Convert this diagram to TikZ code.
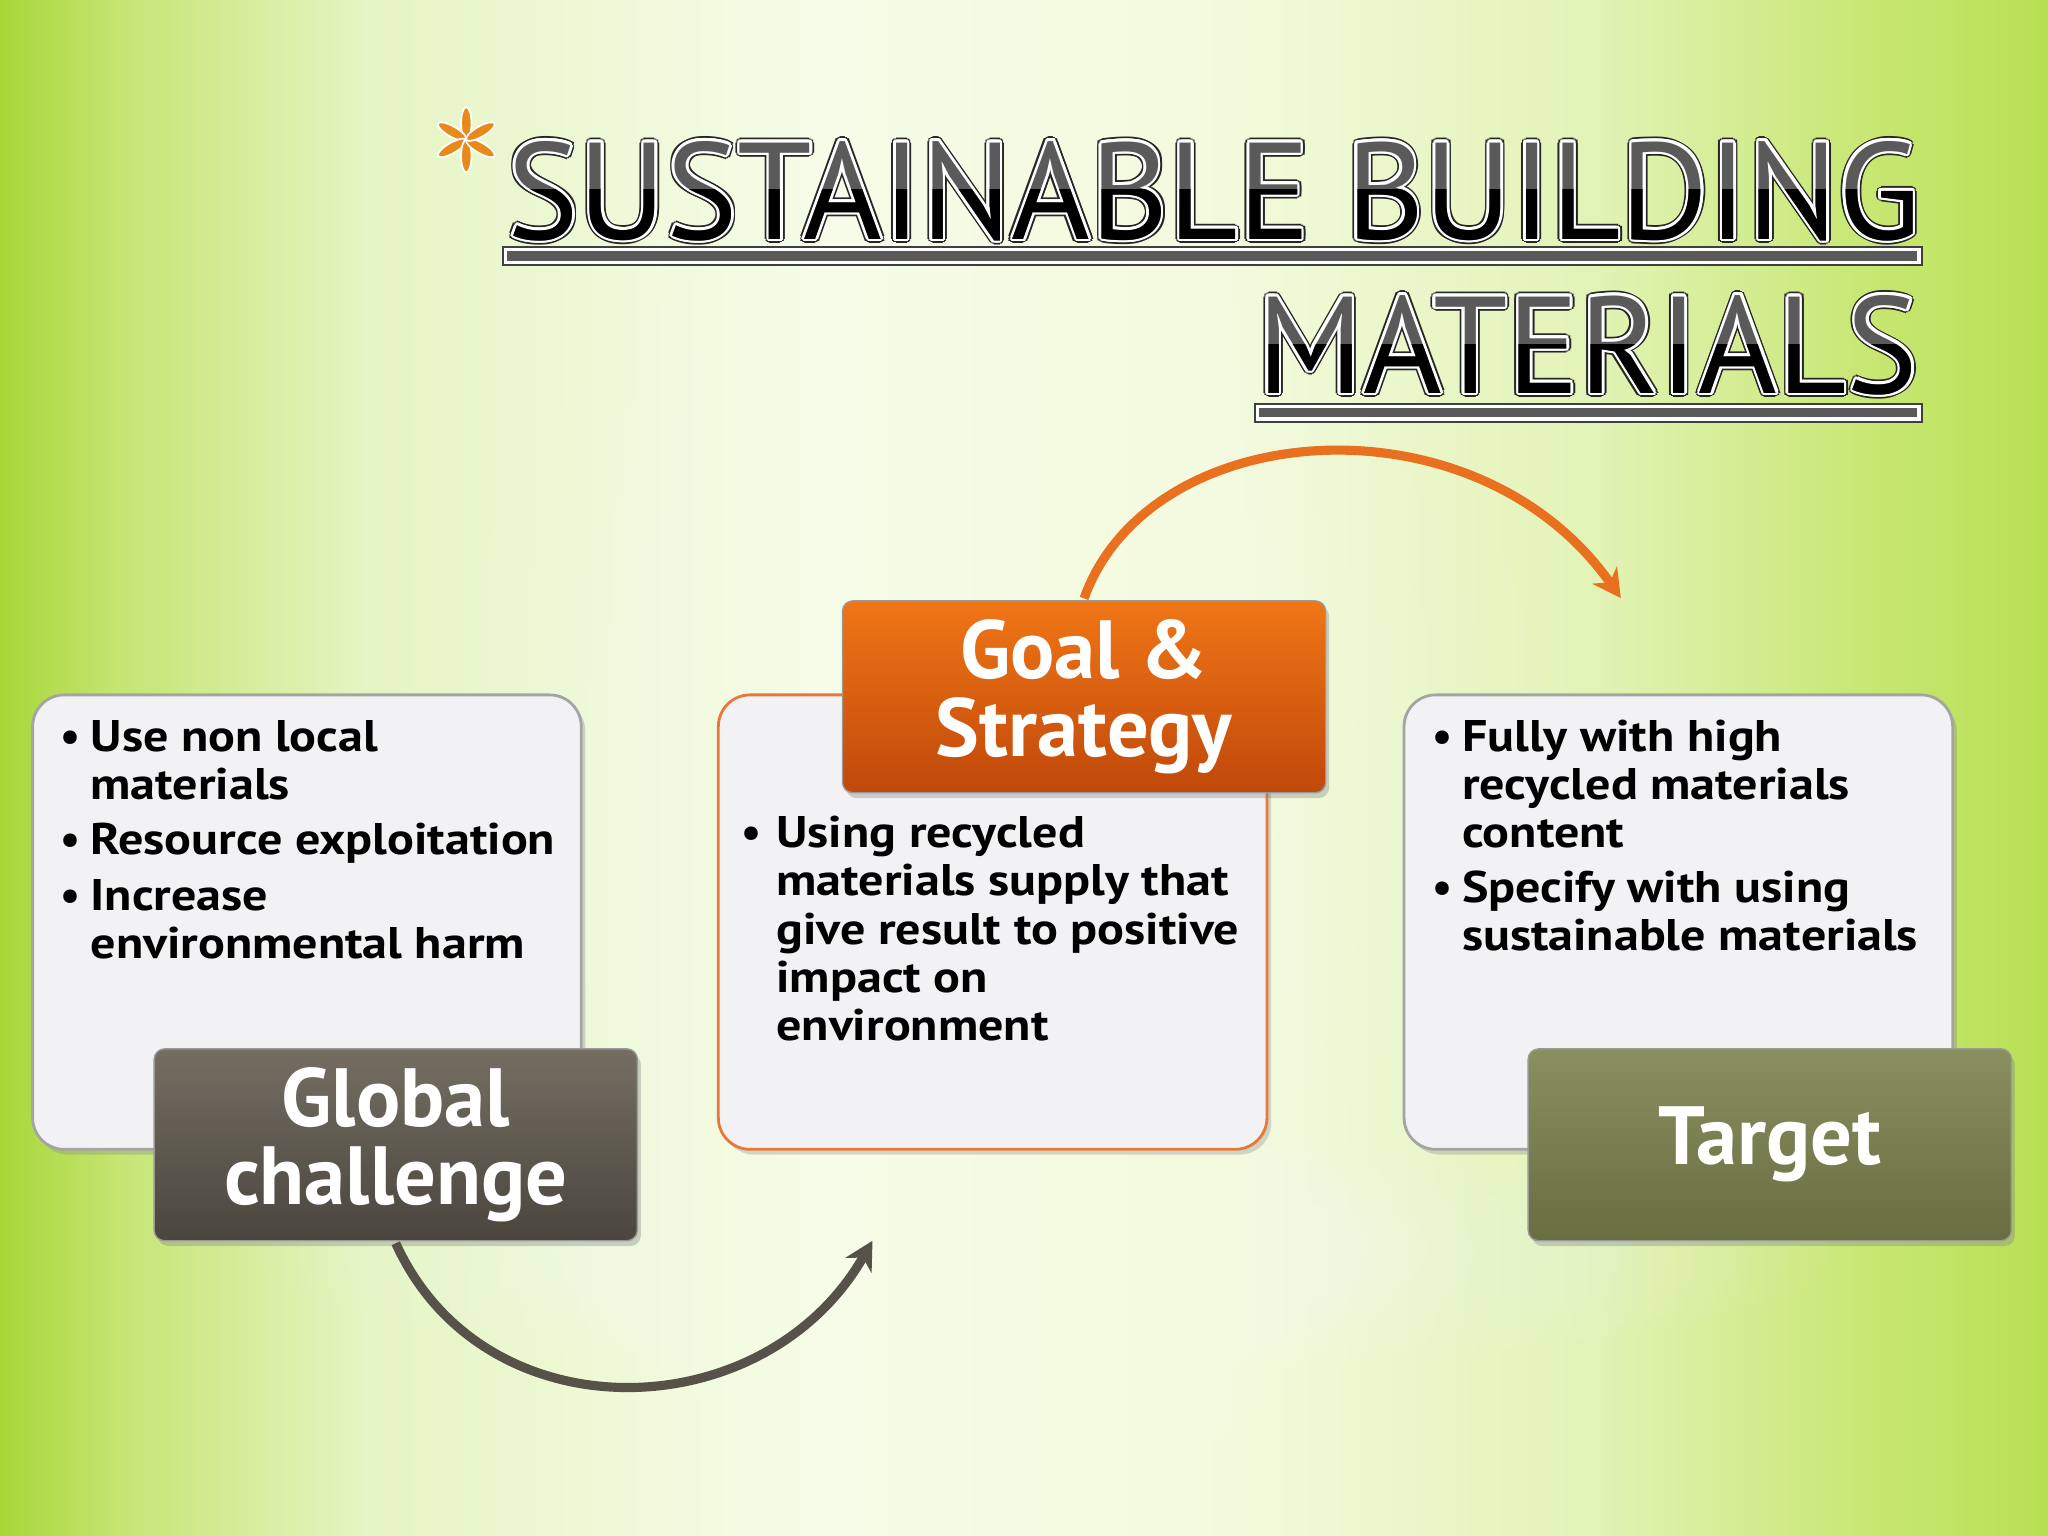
\documentclass[tikz,border=0pt]{standalone}
\usepackage{fontspec}
\usepackage{graphicx}
\setmainfont{PT Sans}
\newfontfamily\bodyfont{PT Sans}[FakeStretch=1.13]
\usetikzlibrary{arrows.meta,shadows,calc}
\definecolor{h0}{HTML}{A8D638}
\definecolor{h1}{HTML}{C6E574}
\definecolor{h2}{HTML}{E6F5C4}
\definecolor{h3}{HTML}{F6FCE8}
\definecolor{h4}{HTML}{F3FADC}
\definecolor{h5}{HTML}{E2F3B6}
\definecolor{h6}{HTML}{C8E774}
\definecolor{h7}{HTML}{B8E052}
\definecolor{boxfill}{HTML}{F2F2F4}
\definecolor{boxline}{HTML}{A4A4A4}
\definecolor{orline}{HTML}{E8783A}
\definecolor{globT}{HTML}{746E62}
\definecolor{globB}{HTML}{4A463E}
\definecolor{goalT}{HTML}{F07616}
\definecolor{goalB}{HTML}{C0480A}
\definecolor{targT}{HTML}{8A8F60}
\definecolor{targB}{HTML}{686E40}
\definecolor{ttlgray}{HTML}{5A5A5A}
\definecolor{astor}{HTML}{E8891C}
\definecolor{arrgray}{HTML}{56524A}
\definecolor{arror}{HTML}{E8701E}
\pgfdeclarehorizontalshading{hbg}{100bp}{color(0bp)=(h0); color(25bp)=(h0); color(28bp)=(h1); color(34bp)=(h2); color(45bp)=(h3); color(55bp)=(h4); color(64bp)=(h5); color(70.5bp)=(h6); color(75bp)=(h7); color(100bp)=(h7)}
\newcommand\TitleA{\resizebox{402pt}{27.9pt}{\fontsize{40}{40}\selectfont SUSTAINABLE BUILDING}}
\newcommand\TitleB{\resizebox{188pt}{27.9pt}{\fontsize{40}{40}\selectfont MATERIALS}}
\newcommand\bul[1]{\makebox[#1][l]{\normalfont\bfseries\textbullet}}
\tikzset{
  ttl/.style={anchor=base west, inner sep=0pt},
  cbox/.style={rounded corners=9pt, minimum width=156.1pt, minimum height=129.3pt,
    draw=boxline, line width=0.8pt, fill=boxfill,
    drop shadow={opacity=0.3, shadow xshift=1.2pt, shadow yshift=-1.5pt}},
  lab/.style={rounded corners=3pt, minimum width=137.5pt, minimum height=54.6pt,
    inner sep=0pt, align=center, text=white, draw=white!60!black, line width=0.4pt,
    font=\fontsize{23.5}{22}\selectfont\bfseries,
    drop shadow={opacity=0.35, shadow xshift=1pt, shadow yshift=-1.5pt}},
  txt/.style={anchor=base west, inner sep=0pt, font=\bodyfont\fontsize{12.6}{13.75}\selectfont\bfseries},
  petal/.style={fill=astor, draw=white, line width=0.5pt},
  garrow/.style={line width=2.6pt, draw=arrgray, -{Stealth[length=8pt,width=8.5pt,inset=2.5pt]}},
  oarrow/.style={line width=2.6pt, draw=arror, -{Stealth[length=8pt,width=8.5pt,inset=2.5pt]}}
}
\begin{document}
\begin{tikzpicture}[x=0.01306cm,y=-0.01306cm]
\useasboundingbox (0,0) rectangle (1568,1176);
\clip (0,0) rectangle (1568,1176);
% background
\shade[shading=hbg] (0,0) rectangle (1568,1176);
\foreach \r in {1,...,12} \fill[white, opacity=0.03] (760,640) ellipse ({36*\r} and {42*\r});
\foreach \r in {1,...,20} \fill[white, opacity=0.03] (800,960) ellipse ({30*\r} and {4.5*\r});

% title line 1
\foreach \a in {0,30,...,330} \node[ttl, text=black!85] (t1o\a) at ($(388,183)+(\a:3.3)$) {\TitleA};
\foreach \a in {0,30,...,330} \node[ttl, text=white] (t1w\a) at ($(388,183)+(\a:2)$) {\TitleA};
\node[ttl, text=ttlgray] (t1) at (388,183) {\TitleA};
\begin{scope}
\clip (370,145) rectangle (1490,192);
\node[ttl, text=black] (t1b) at (388,183) {\TitleA};
\end{scope}
% title line 2
\foreach \a in {0,30,...,330} \node[ttl, text=black!85] (t2o\a) at ($(962,301)+(\a:3.3)$) {\TitleB};
\foreach \a in {0,30,...,330} \node[ttl, text=white] (t2w\a) at ($(962,301)+(\a:2)$) {\TitleB};
\node[ttl, text=ttlgray] (t2) at (962,301) {\TitleB};
\begin{scope}
\clip (950,264) rectangle (1490,310);
\node[ttl, text=black] (t2b) at (962,301) {\TitleB};
\end{scope}
% underlines
\fill[black!75] (384,188.5) rectangle (1472,203.5);
\fill[white] (385.5,190) rectangle (1470.5,202);
\fill[ttlgray] (388,192.5) rectangle (1468,199.5);
\fill[black!75] (960,308.5) rectangle (1472,323.5);
\fill[white] (961.5,310) rectangle (1470.5,322);
\fill[ttlgray] (964,312.5) rectangle (1468,319.5);
% asterisk
\foreach \a in {90,150,210,270,330,30}
  \filldraw[petal, shift={(357,107)}, rotate=\a] (12.5,0) ellipse (12.5 and 4);

% content boxes
\node[cbox] (lbox) at (235,706) {};
\node[cbox, draw=orline] (mbox) at (760,706) {};
\node[cbox] (rbox) at (1285,706) {};

% text
\node[txt] (ltxt) at (46,575) {\begin{tabular}[t]{@{}l@{}l@{}}
\bul{8.5pt} & Use non local\\
 & materials\\[1.9pt]
\bul{8.5pt} & Resource exploitation\\[2.1pt]
\bul{8.5pt} & Increase\\
 & environmental harm
\end{tabular}};
\node[txt] (mtxt) at (567,649) {\begin{tabular}[t]{@{}l@{}l@{}}
\bul{10pt} & Using recycled\\
 & materials supply that\\
 & give result to positive\\
 & impact on\\
 & environment
\end{tabular}};
\node[txt] (rtxt) at (1096,575) {\begin{tabular}[t]{@{}l@{}l@{}}
\bul{8.5pt} & Fully with high\\
 & recycled materials\\
 & content\\[1.9pt]
\bul{8.5pt} & Specify with using\\
 & sustainable materials
\end{tabular}};

% label boxes
\node[lab, top color=globT, bottom color=globB] (glob) at (303,876.5) {Global\\challenge};
\node[lab, top color=goalT, bottom color=goalB] (goal) at (830,533.5) {Goal \&\\Strategy};
\node[lab, top color=targT, bottom color=targB] (targ) at (1355,876.5) {Target};

% arrows
\coordinate (gend) at (668,950);
\coordinate (oend) at (1241,458);
\draw[garrow] ([yshift=-0.5pt]glob.south) .. controls (370,1100) and (585,1095) .. (gend);
\draw[oarrow] ([yshift=0.5pt]goal.north) .. controls (880,318) and (1130,300) .. (oend);
\end{tikzpicture}
\end{document}
